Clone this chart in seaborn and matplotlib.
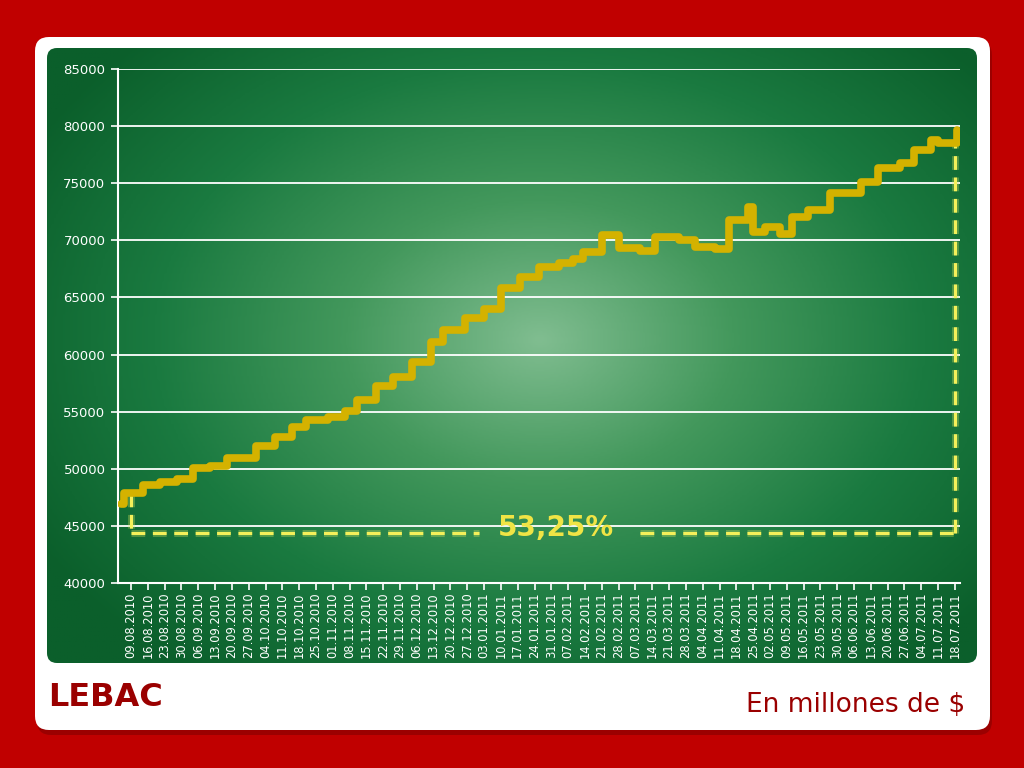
import numpy as np
import pandas as pd
import matplotlib
matplotlib.use('Agg')
import matplotlib.pyplot as plt
import matplotlib.dates as mdates
import matplotlib.patheffects as pe
from matplotlib.patches import FancyBboxPatch
from matplotlib.colors import LinearSegmentedColormap
import seaborn as sns

# LEBAC stock (millones de $), levels at each step
step_dates = ['05.08.2010', '06.08.2010', '14.08.2010', '21.08.2010', '28.08.2010',
              '04.09.2010', '11.09.2010', '18.09.2010', '30.09.2010', '08.10.2010',
              '15.10.2010', '21.10.2010', '30.10.2010', '06.11.2010', '11.11.2010',
              '19.11.2010', '26.11.2010', '04.12.2010', '12.12.2010', '17.12.2010',
              '26.12.2010', '03.01.2011', '10.01.2011', '18.01.2011', '26.01.2011',
              '03.02.2011', '09.02.2011', '13.02.2011', '21.02.2011', '28.02.2011',
              '09.03.2011', '15.03.2011', '25.03.2011', '01.04.2011', '09.04.2011',
              '15.04.2011', '23.04.2011', '25.04.2011', '30.04.2011', '06.05.2011',
              '11.05.2011', '18.05.2011', '27.05.2011', '09.06.2011', '16.06.2011',
              '25.06.2011', '01.07.2011', '08.07.2011', '11.07.2011', '19.07.2011']
step_values = [46900, 47900, 48550, 48850, 49100,
               50050, 50250, 50950, 52000, 52800,
               53650, 54300, 54500, 55100, 56000,
               57250, 58000, 59350, 61100, 62150,
               63200, 64000, 65800, 66800, 67650,
               68000, 68400, 69000, 70450, 69350,
               69100, 70300, 70050, 69450, 69200,
               71800, 72900, 70700, 71200, 70550,
               72050, 72650, 74150, 75100, 76350,
               76800, 77900, 78800, 78500, 79700]

tick_dates = pd.date_range('2010-08-09', '2011-07-18', freq='7D')
y_ticks = list(range(40000, 85001, 5000))

bracket_level = 44400
pct_label = '53,25%'
title_text = 'LEBAC'
unit_text = 'En millones de $'

df = pd.DataFrame({'fecha': pd.to_datetime(step_dates, format='%d.%m.%Y'),
                   'valor': step_values})

sns.set_theme(style='white')
plt.rcParams['font.family'] = ['DejaVu Sans']

W, H = 1024, 768
fig = plt.figure(figsize=(10.24, 7.68), dpi=100)
fig.patch.set_facecolor('#c00000')


def box(x0, y0, x1, y1):
    # pixel box (top-left origin) -> figure fraction
    return [x0 / W, 1 - y1 / H, (x1 - x0) / W, (y1 - y0) / H]


# background card + green panel
bg = fig.add_axes([0, 0, 1, 1])
bg.set_axis_off()
bg.set_xlim(0, W)
bg.set_ylim(H, 0)
bg.add_patch(FancyBboxPatch((37, 41), 955, 694, boxstyle='round,pad=0,rounding_size=14',
                            fc='#700000', ec='none', alpha=0.45))
bg.add_patch(FancyBboxPatch((35, 37), 955, 693, boxstyle='round,pad=0,rounding_size=14',
                            fc='white', ec='none'))
panel = FancyBboxPatch((47, 48), 930, 615, boxstyle='round,pad=0,rounding_size=10',
                       fc='none', ec='none')
bg.add_patch(panel)

xx, yy = np.meshgrid(np.linspace(47, 977, 400), np.linspace(48, 663, 300))
r = np.sqrt(((xx - 540) / 580) ** 2 + ((yy - 340) / 420) ** 2)
r = np.clip(r, 0, 1)
green = LinearSegmentedColormap.from_list('g', ['#80bd90', '#43985c', '#1a7a40', '#0b5f2b'])
img = bg.imshow(r, cmap=green, vmin=0, vmax=1, extent=(47, 977, 663, 48),
                origin='upper', aspect='auto', zorder=1)
img.set_clip_path(panel)

# main chart
ax = fig.add_axes(box(118, 69, 960, 583))
ax.patch.set_alpha(0)
sns.lineplot(data=df, x='fecha', y='valor', ax=ax, color='#d4b200', linewidth=5.5,
             drawstyle='steps-post', estimator=None, sort=False, zorder=5)

ax.set_xlim(pd.Timestamp('2010-08-03 14:00'), pd.Timestamp('2011-07-20 03:00'))
ax.set_ylim(40000, 85000)
ax.set_yticks(y_ticks)
ax.set_xticks(tick_dates)
ax.xaxis.set_major_formatter(mdates.DateFormatter('%d.%m.%Y'))
ax.tick_params(axis='x', colors='white', labelsize=8.3, rotation=90, length=5, width=1.2,
               direction='out', pad=2, bottom=True)
ax.tick_params(axis='y', colors='white', labelsize=9.5, length=5, width=1.2, left=True, pad=4)
ax.set_xlabel('')
ax.set_ylabel('')
ax.grid(axis='y', color='white', linewidth=1.3)
ax.grid(axis='x', visible=False)
for s in ['top', 'right']:
    ax.spines[s].set_visible(False)
for s in ['left', 'bottom']:
    ax.spines[s].set_color('white')
    ax.spines[s].set_linewidth(1.5)

# dashed bracket with the % change
glow = [pe.Stroke(linewidth=5, foreground='#e6ec60', alpha=0.3), pe.Normal()]
dash_kw = dict(color='#f4f05a', linewidth=2.2, linestyle=(0, (4.5, 2.5)),
               path_effects=glow, zorder=4, solid_capstyle='butt')
x_left, x_right = tick_dates[0], tick_dates[-1]
gap_left, gap_right = pd.Timestamp('2011-01-01'), pd.Timestamp('2011-03-09')
ax.plot([x_left, x_left], [step_values[1], bracket_level], **dash_kw)
ax.plot([x_left, gap_left], [bracket_level, bracket_level], **dash_kw)
ax.plot([gap_right, x_right], [bracket_level, bracket_level], **dash_kw)
ax.plot([x_right, x_right], [bracket_level, step_values[-2] + 100], **dash_kw)
ax.text(pd.Timestamp('2011-02-02'), bracket_level + 450, pct_label, color='#f0e445',
        fontsize=20, fontweight='bold', ha='center', va='center', zorder=6)

fig.text(48 / W, 1 - 697 / H, title_text, color='#9a0000', fontsize=23,
         fontweight='bold', ha='left', va='center')
fig.text(965 / W, 1 - 705 / H, unit_text, color='#9a0000', fontsize=19,
         ha='right', va='center')

fig.savefig('out.png', dpi=100, facecolor=fig.get_facecolor())
